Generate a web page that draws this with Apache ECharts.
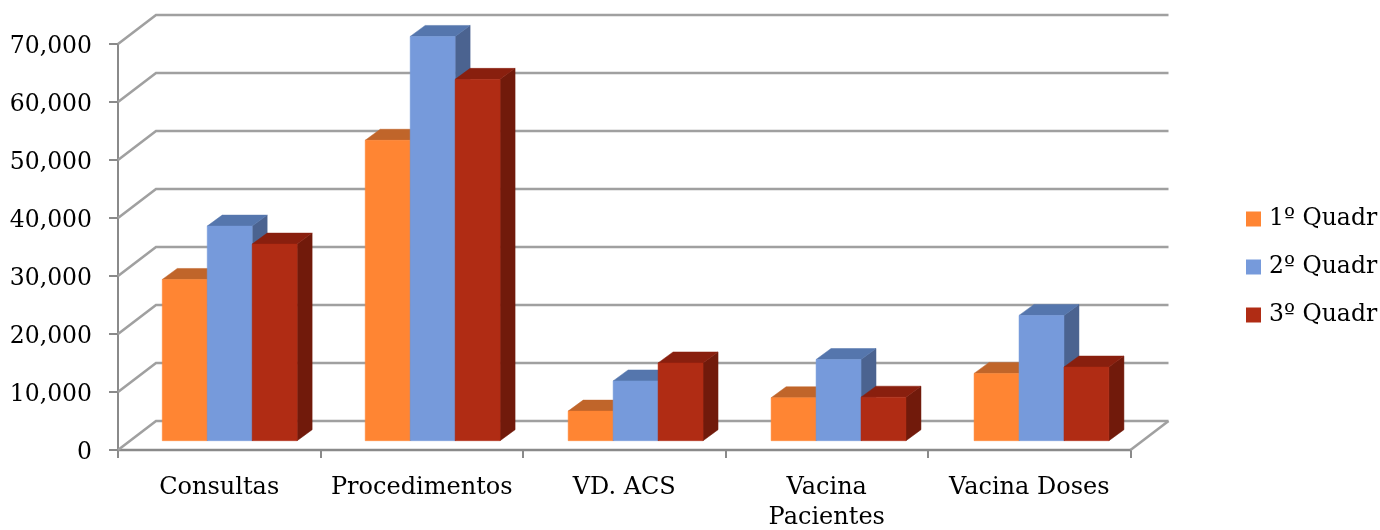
<!DOCTYPE html>
<html><head><meta charset="utf-8">
<style>html,body{margin:0;padding:0;background:#fff}#c{width:1380px;height:530px}</style>
<script src="https://cdn.jsdelivr.net/npm/echarts@6/dist/echarts.min.js"></script>
</head><body><div id="c"></div>
<script>
const categories = ['Consultas','Procedimentos','VD. ACS','Vacina\nPacientes','Vacina Doses'];
const quadr1 = [27800,51800,5100,7400,11600];
const quadr2 = [37000,69700,10300,14000,21600];
const quadr3 = [33900,62300,13400,7500,12700];
const seriesNames = ['1º Quadr','2º Quadr','3º Quadr'];
const gridValues = [0,10000,20000,30000,40000,50000,60000,70000];

const frontColors = ['#FF8533','#769ADB','#B02C14'];
const topColors = ['#C0652A','#5576AD','#891F0E'];
const sideColors = ['#A8561F','#4B6390','#711A0B'];
const FONT = '"DejaVu Serif"';
const wallDx = 38, wallDy = -29;
const barDepthX = 15, barDepthY = -11;
const barShiftX = 10.45, barShiftY = -9.3, barDriftX = 0.45;
const barWidthRatio = 0.222;

function barRender(si){
  return function(params, api){
    const cat = api.value(0), v = api.value(1);
    const top = api.coord([cat, v]);
    const base = api.coord([cat, 0]);
    const band = api.size([1,0])[0];
    const w = band * barWidthRatio;
    const x0 = top[0] + barShiftX + cat * barDriftX + (si-1.5) * w;
    const x1 = x0 + w;
    const yT = top[1] + barShiftY, yB = base[1] + barShiftY;
    const dx = barDepthX, dy = barDepthY;
    const poly = (pts, fill) => ({type:'polygon', shape:{points:pts}, style:{fill:fill, stroke:fill, lineWidth:0.5}});
    return {type:'group', children:[
      poly([[x1,yT],[x1+dx,yT+dy],[x1+dx,yB+dy],[x1,yB]], sideColors[si]),
      poly([[x0,yT],[x0+dx,yT+dy],[x1+dx,yT+dy],[x1,yT]], topColors[si]),
      poly([[x0,yT],[x1,yT],[x1,yB],[x0,yB]], frontColors[si])
    ]};
  };
}
function gridRender(params, api){
  const v = api.value(1);
  const c = api.coord([0, v]);
  const band = api.size([1,0])[0];
  const xL = c[0] - band/2, y = c[1];
  const xR = xL + band * categories.length;
  const st = {stroke:'#a0a0a0', lineWidth:2.6, fill:'none'};
  const kids = [
    {type:'polyline', shape:{points:[[xL,y],[xL+wallDx,y+wallDy],[xR+wallDx,y+wallDy]]}, style:st}
  ];
  if (v === 0) kids.push({type:'line', shape:{x1:xR,y1:y,x2:xR+wallDx,y2:y+wallDy}, style:st});
  return {type:'group', children:kids};
}
const chart = echarts.init(document.getElementById('c'), null, {renderer:'canvas'});
const series = [{
  type:'custom', name:'grid', silent:true, z:1, clip:false,
  renderItem:gridRender, encode:{x:0,y:1},
  data:gridValues.map(v=>[0,v])
}];
[quadr1,quadr2,quadr3].forEach((vals,si)=>{
  series.push({
    type:'custom', name:seriesNames[si], z:3+si, clip:false,
    itemStyle:{color:frontColors[si]},
    renderItem:barRender(si), encode:{x:0,y:1},
    data:vals.map((v,i)=>[i,v])
  });
});
chart.setOption({
  animation:false,
  backgroundColor:'#fff',
  textStyle:{fontFamily:FONT},
  grid:{left:118,top:44,width:1012.5,height:406,containLabel:false,outerBoundsMode:'none'},
  legend:{
    data:seriesNames, orient:'vertical', left:1246, top:207, padding:0, itemWidth:15, itemHeight:15, itemGap:24,
    icon:'rect', selectedMode:false,
    textStyle:{fontFamily:FONT,fontSize:23.5,color:'#000',padding:[0,0,0,3]}
  },
  xAxis:{
    type:'category', data:categories, boundaryGap:true,
    axisLine:{lineStyle:{color:'#8a8a8a',width:2.4}},
    axisTick:{show:true,length:8,lineStyle:{color:'#8a8a8a',width:2},alignWithLabel:false},
    axisLabel:{interval:0,margin:23,fontFamily:FONT,fontSize:24,color:'#000',lineHeight:30,hideOverlap:false}
  },
  yAxis:{
    type:'value', min:0, max:70000, interval:10000,
    splitLine:{show:false},
    axisLine:{show:true,lineStyle:{color:'#8a8a8a',width:2}},
    axisTick:{show:true,length:9,lineStyle:{color:'#8a8a8a',width:2}},
    axisLabel:{margin:26,color:'#000',
      rich:{n:{fontFamily:FONT,fontSize:23.5,color:'#000',padding:[6,0,0,0]}},
      formatter:v=>'{n|'+v.toLocaleString('en-US')+'}'}
  },
  series
});
</script></body></html>
